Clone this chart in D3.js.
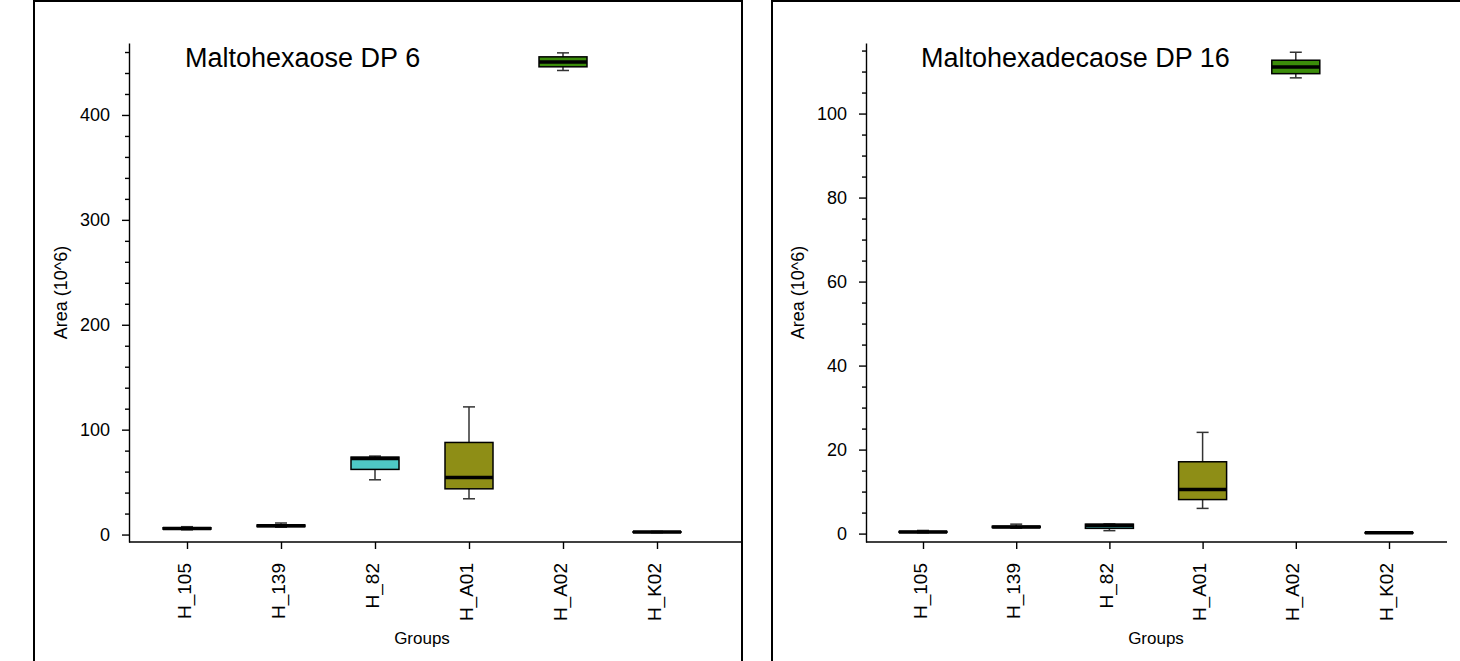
<!DOCTYPE html>
<html>
<head>
<meta charset="utf-8">
<script src="https://cdn.jsdelivr.net/npm/d3@7"></script>
<style>
  body { margin: 0; background: #fff; }
  svg { display: block; font-family: "Liberation Sans", Arial, sans-serif; }
  .axis text { font-size: 18px; fill: #000; font-family: "Liberation Sans", Arial, sans-serif; }
  .x.axis text { font-size: 19px; }
  .axis path, .axis line { stroke: #000; stroke-width: 1.4px; }
</style>
</head>
<body>
<div id="chart"></div>
<script>
//
// two box plot panels, R style
//

var groups = ["H_105", "H_139", "H_82", "H_A01", "H_A02", "H_K02"];
var boxColors = ["#c0504d", "#4f81bd", "#4ec8c5", "#8e8e16", "#3b8c0a", "#7f5fa0"];

// five number summaries: [min, q1, median, q3, max]
var dp6Stats = [
    [4.5, 5.2, 5.8, 6.5, 7.5],
    [7.0, 7.6, 8.3, 9.1, 11.0],
    [52.2, 62.1, 72.6, 73.8, 74.8],
    [34.1, 43.6, 54.5, 87.8, 121.7],
    [442.4, 445.9, 450.5, 455.4, 459.2],
    [1.8, 2.1, 2.4, 2.7, 3.0]
];
var dp16Stats = [
    [0.2, 0.3, 0.4, 0.5, 0.75],
    [1.3, 1.45, 1.6, 1.75, 2.25],
    [0.7, 1.25, 1.9, 2.25, 2.3],
    [6.0, 8.1, 10.5, 17.1, 24.1],
    [108.5, 109.5, 111.1, 112.7, 114.6],
    [0.1, 0.15, 0.2, 0.25, 0.3]
];

var dp6Ticks = [0, 100, 200, 300, 400];
var dp16Ticks = [0, 20, 40, 60, 80, 100];

var panels = [
    { title: "Maltohexaose DP 6", stats: dp6Stats, ticks: dp6Ticks, minorStep: 20, yDomain: [-7.1, 468.6],
      left: 34, right: 742, yAxisX: 129, xAxisEnd: 742, firstX: 187, lastX: 657 },
    { title: "Maltohexadecaose DP 16", stats: dp16Stats, ticks: dp16Ticks, minorStep: 5, yDomain: [-2.0, 116.8],
      left: 772, right: 1500, yAxisX: 866, xAxisEnd: 1447, firstX: 923, lastX: 1389 }
];

var _width = 1460;
var _height = 661;
var _plotTop = 43;
var _plotBottom = 542;
var _boxWidth = 48;
var _capWidth = 12;

var svg = d3.select("#chart")
    .append("svg")
    .attr("width", _width)
    .attr("height", _height);

panels.forEach(function (p) {
    drawPanel(p);
});

function drawPanel(p) {
    var g = svg.append("g");

    // panel frame (bottom runs off the page)
    g.append("rect")
        .attr("x", p.left)
        .attr("y", 1)
        .attr("width", p.right - p.left)
        .attr("height", _height + 20)
        .attr("fill", "none")
        .attr("stroke", "#000")
        .attr("stroke-width", 2);

    var x = d3.scalePoint().domain(groups).range([p.firstX, p.lastX]);
    var y = d3.scaleLinear().domain(p.yDomain).range([_plotBottom, _plotTop]);

    // y axis, majors
    var yAxis = d3.axisLeft(y).tickValues(p.ticks).tickSize(7).tickPadding(12).tickSizeOuter(0);
    g.append("g")
        .attr("class", "y axis")
        .attr("transform", "translate(" + p.yAxisX + ",0)")
        .call(yAxis);

    // y axis, minors
    var minor = d3.range(0, p.yDomain[1], p.minorStep).filter(function (v) { return p.ticks.indexOf(v) < 0; });
    g.append("g")
        .attr("class", "y axis minor")
        .attr("transform", "translate(" + p.yAxisX + ",0)")
        .call(d3.axisLeft(y).tickValues(minor).tickSize(4).tickFormat("").tickSizeOuter(0))
        .select(".domain").remove();

    // x axis
    var xAxis = d3.axisBottom(x).tickSize(7).tickSizeOuter(0);
    var xg = g.append("g")
        .attr("class", "x axis")
        .attr("transform", "translate(0," + _plotBottom + ")")
        .call(xAxis);
    xg.select(".domain").remove();
    xg.append("line")
        .attr("x1", p.yAxisX)
        .attr("x2", p.xAxisEnd)
        .attr("stroke", "#000")
        .attr("stroke-width", 1.4);
    xg.selectAll(".tick text")
        .attr("transform", "translate(3,21) rotate(-90)")
        .attr("x", 0)
        .attr("y", 0)
        .attr("dy", 0)
        .style("text-anchor", "end");

    // axis titles
    g.append("text")
        .attr("transform", "translate(" + (p.yAxisX - 62) + "," + ((_plotTop + _plotBottom) / 2) + ") rotate(-90)")
        .style("text-anchor", "middle")
        .style("font-size", "18px")
        .text("Area (10^6)");

    g.append("text")
        .attr("x", (p.firstX + p.lastX) / 2)
        .attr("y", 644)
        .style("text-anchor", "middle")
        .style("font-size", "17px")
        .text("Groups");

    // chart title
    g.append("text")
        .attr("x", p.firstX - 2)
        .attr("y", 67)
        .style("font-size", "27px")
        .text(p.title);

    // boxes
    var box = g.append("g")
        .selectAll("g")
        .data(p.stats)
        .join("g")
        .attr("transform", function (d, i) { return "translate(" + x(groups[i]) + ",0)"; });

    box.append("line")
        .attr("y1", function (d) { return y(d[0]); })
        .attr("y2", function (d) { return y(d[4]); })
        .attr("stroke", "#333")
        .attr("stroke-width", 1.5);

    box.selectAll(".cap")
        .data(function (d) { return [d[0], d[4]]; })
        .join("line")
        .attr("class", "cap")
        .attr("x1", -_capWidth / 2)
        .attr("x2", _capWidth / 2)
        .attr("y1", function (v) { return y(v); })
        .attr("y2", function (v) { return y(v); })
        .attr("stroke", "#333")
        .attr("stroke-width", 1.5);

    box.append("rect")
        .attr("x", -_boxWidth / 2)
        .attr("width", _boxWidth)
        .attr("y", function (d) { return y(d[3]); })
        .attr("height", function (d) { return Math.max(0.5, y(d[1]) - y(d[3])); })
        .attr("fill", function (d, i) { return boxColors[i]; })
        .attr("stroke", "#000")
        .attr("stroke-width", 1.5);

    box.append("line")
        .attr("x1", -_boxWidth / 2)
        .attr("x2", _boxWidth / 2)
        .attr("y1", function (d) { return y(d[2]); })
        .attr("y2", function (d) { return y(d[2]); })
        .attr("stroke", "#000")
        .attr("stroke-width", 3.5);
}
</script>
</body>
</html>
